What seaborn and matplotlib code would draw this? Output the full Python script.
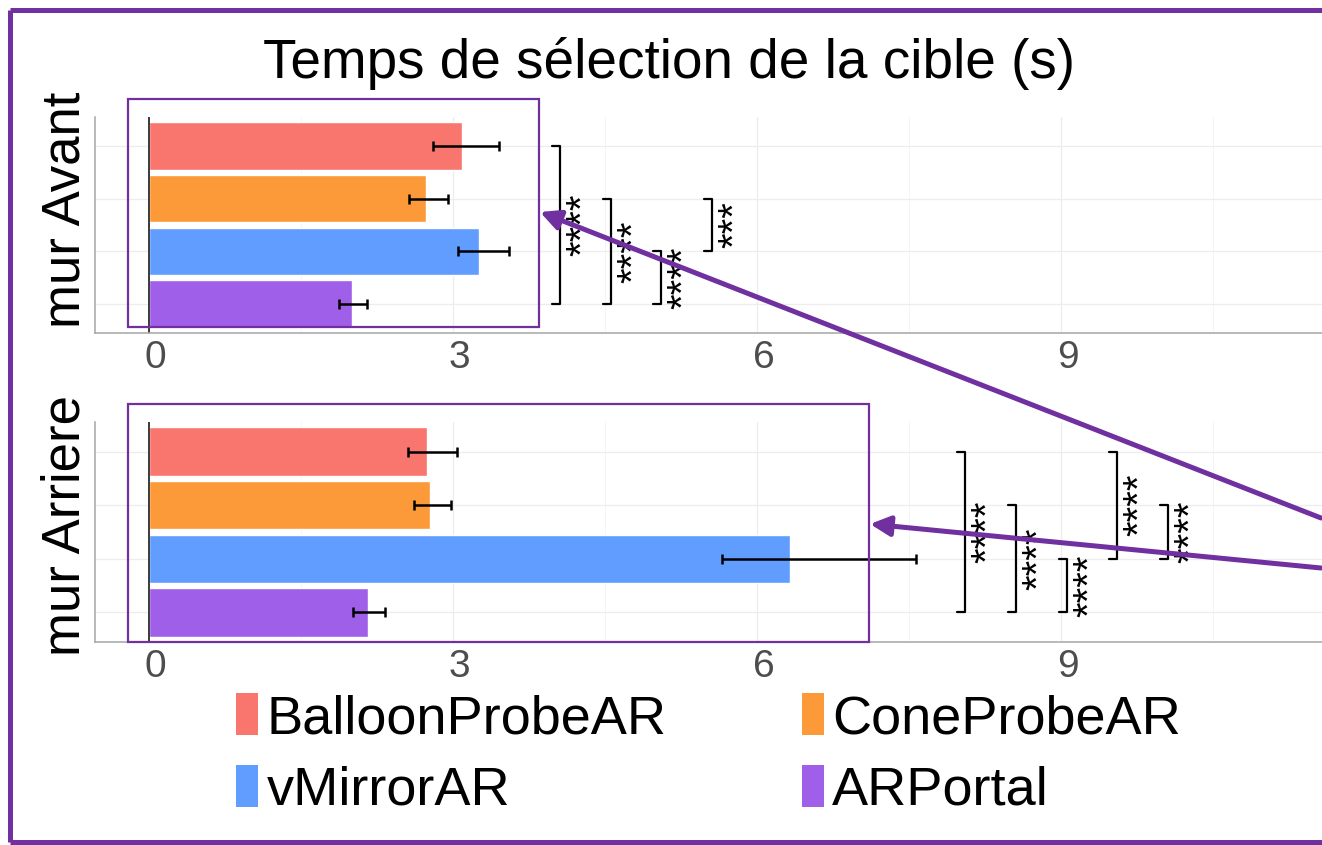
import pandas as pd
import matplotlib.pyplot as plt
import seaborn as sns
from matplotlib.patches import Rectangle, FancyArrowPatch, Patch
from matplotlib.lines import Line2D
from matplotlib.transforms import ScaledTranslation

# Data
methods = ['BalloonProbeAR', 'ConeProbeAR', 'vMirrorAR', 'ARPortal']
colors = ['#F8766D', '#FC9A39', '#619CFF', '#A05FE8']
walls = ['mur Avant', 'mur Arriere']

mean_avant = [3.09, 2.74, 3.26, 2.01]
low_avant = [2.81, 2.57, 3.05, 1.88]
high_avant = [3.46, 2.95, 3.56, 2.15]

mean_arriere = [2.75, 2.78, 6.33, 2.16]
low_arriere = [2.56, 2.62, 5.66, 2.02]
high_arriere = [3.04, 2.98, 7.57, 2.33]

# significance brackets: (method A, method B, label)
sig_avant = [('BalloonProbeAR', 'ARPortal', '****'),
             ('ConeProbeAR', 'ARPortal', '****'),
             ('vMirrorAR', 'ARPortal', '****'),
             ('ConeProbeAR', 'vMirrorAR', '***')]
sig_arriere = [('BalloonProbeAR', 'ARPortal', '****'),
               ('ConeProbeAR', 'ARPortal', '****'),
               ('vMirrorAR', 'ARPortal', '****'),
               ('BalloonProbeAR', 'vMirrorAR', '****'),
               ('ConeProbeAR', 'vMirrorAR', '****')]

df = pd.DataFrame({
    'wall': [walls[0]] * 4 + [walls[1]] * 4,
    'method': methods * 2,
    'time': mean_avant + mean_arriere,
    'low': low_avant + low_arriere,
    'high': high_avant + high_arriere,
})

W, H = 1322, 845
PURPLE = '#7030A0'
FONT = 'Liberation Sans'

sns.set_theme(style='white')
plt.rcParams['font.family'] = [FONT, 'DejaVu Sans']
plt.rcParams['text.color'] = 'black'

fig = plt.figure(figsize=(W / 100, (H + 0.01) / 100), dpi=100)


def fx(x):
    return x / W


def fy(y):
    return 1 - y / H


# panel boxes in image pixels: (top, bottom) ; axes span x 95 -> right edge
panels = [(117, 333), (422, 642)]
sig_x0 = [4.06, 8.06]
sigs = [sig_avant, sig_arriere]
label_y = [210, 525]

for i, wall in enumerate(walls):
    top, bot = panels[i]
    ax = fig.add_axes([fx(95), fy(bot), 1 - fx(95), (bot - top) / H])
    sub = df[df['wall'] == wall]
    sns.barplot(data=sub, x='time', y='method', hue='method', order=methods,
                hue_order=methods, palette=colors, saturation=1, width=0.9,
                errorbar=None, legend=False, ax=ax, zorder=2)
    ax.errorbar(sub['time'], list(range(len(methods))),
                xerr=[sub['time'] - sub['low'], sub['high'] - sub['time']],
                fmt='none', ecolor='black', elinewidth=1.8, capsize=3.6,
                capthick=1.8, zorder=3)
    ax.axvline(0, color='#3a3a3a', lw=1.4, zorder=2.5)

    ax.set_xlim(-0.53, 11.58)
    ax.set_ylim(3.55, -0.55)
    ax.set_xticks([0, 3, 6, 9])
    ax.set_xticks([1.5, 4.5, 7.5, 10.5], minor=True)
    ax.grid(True, which='major', color='#EDEDED', lw=0.9, zorder=0)
    ax.grid(True, which='minor', axis='x', color='#F4F4F4', lw=0.7, zorder=0)
    ax.set_axisbelow(True)
    ax.set_yticklabels([])
    ax.set_xlabel('')
    ax.set_ylabel('')
    ax.tick_params(axis='both', which='both', length=0)
    ax.tick_params(axis='x', labelsize=28, labelcolor='#4D4D4D', pad=5)
    off = ScaledTranslation(7 / 100, 0, fig.dpi_scale_trans)
    for lab in ax.get_xticklabels():
        lab.set_transform(lab.get_transform() + off)
        lab.set_fontfamily(FONT)
    for s in ['top', 'right']:
        ax.spines[s].set_visible(False)
    for s in ['left', 'bottom']:
        ax.spines[s].set_color('#A6A6A6')
        ax.spines[s].set_linewidth(1.1)

    # significance brackets
    for k, (a, b, txt) in enumerate(sigs[i]):
        bx = sig_x0[i] + 0.5 * k
        ya, yb = methods.index(a), methods.index(b)
        ax.plot([bx - 0.08, bx, bx, bx - 0.08], [ya, ya, yb, yb],
                color='black', lw=1.6, zorder=4, clip_on=False)
        ax.text(bx + 0.04, (ya + yb) / 2, txt, rotation=90, ha='left',
                va='center', fontsize=29, color='black', zorder=4)

    # facet label
    fig.text(fx(66), fy(label_y[i]), wall, rotation=90, ha='center',
             va='center', fontsize=38, color='black')

# title
fig.text(fx(669), fy(78), 'Temps de sélection de la cible (s)', ha='center',
         va='baseline', fontsize=39.5, color='black')

# legend (row order: BalloonProbeAR / ConeProbeAR, vMirrorAR / ARPortal)
handles = [Patch(facecolor=c, edgecolor='none') for c in colors]
order = [0, 2, 1, 3]
leg = fig.legend([handles[j] for j in order], [methods[j] for j in order],
                 ncol=2, loc='upper left', bbox_to_anchor=(fx(236), fy(693)),
                 frameon=False, fontsize=39, handlelength=0.41,
                 handleheight=0.83, handletextpad=0.15, columnspacing=2.5,
                 labelspacing=0.38, borderpad=0, borderaxespad=0)
for t in leg.get_texts():
    t.set_color('black')

# purple highlight boxes
fig.add_artist(Rectangle((fx(128), fy(327)), fx(539 - 128), (327 - 99) / H,
                         transform=fig.transFigure, fill=False,
                         edgecolor=PURPLE, lw=1.6, zorder=6))
fig.add_artist(Rectangle((fx(128), fy(642)), fx(869 - 128), (642 - 404) / H,
                         transform=fig.transFigure, fill=False,
                         edgecolor=PURPLE, lw=1.6, zorder=6))

# arrows pointing to the boxes
for start, end in [((1321, 518), (540, 212)), ((1321, 568), (870, 524))]:
    fig.add_artist(FancyArrowPatch((fx(start[0]), fy(start[1])),
                                   (fx(end[0]), fy(end[1])),
                                   transform=fig.transFigure,
                                   arrowstyle='-|>,head_length=12,head_width=6',
                                   mutation_scale=1, color=PURPLE, lw=3.6,
                                   shrinkA=0, shrinkB=0, zorder=7))

# outer frame (open on the right, cropped)
for xs, ys in [([fx(9.5), fx(1322)], [fy(10), fy(10)]),
               ([fx(9.5), fx(9.5)], [fy(10), fy(842)]),
               ([fx(9.5), fx(1322)], [fy(842), fy(842)])]:
    fig.add_artist(Line2D(xs, ys, transform=fig.transFigure, color=PURPLE,
                          lw=3.6, solid_capstyle='butt', zorder=8))

fig.savefig('out.png', dpi=100)
